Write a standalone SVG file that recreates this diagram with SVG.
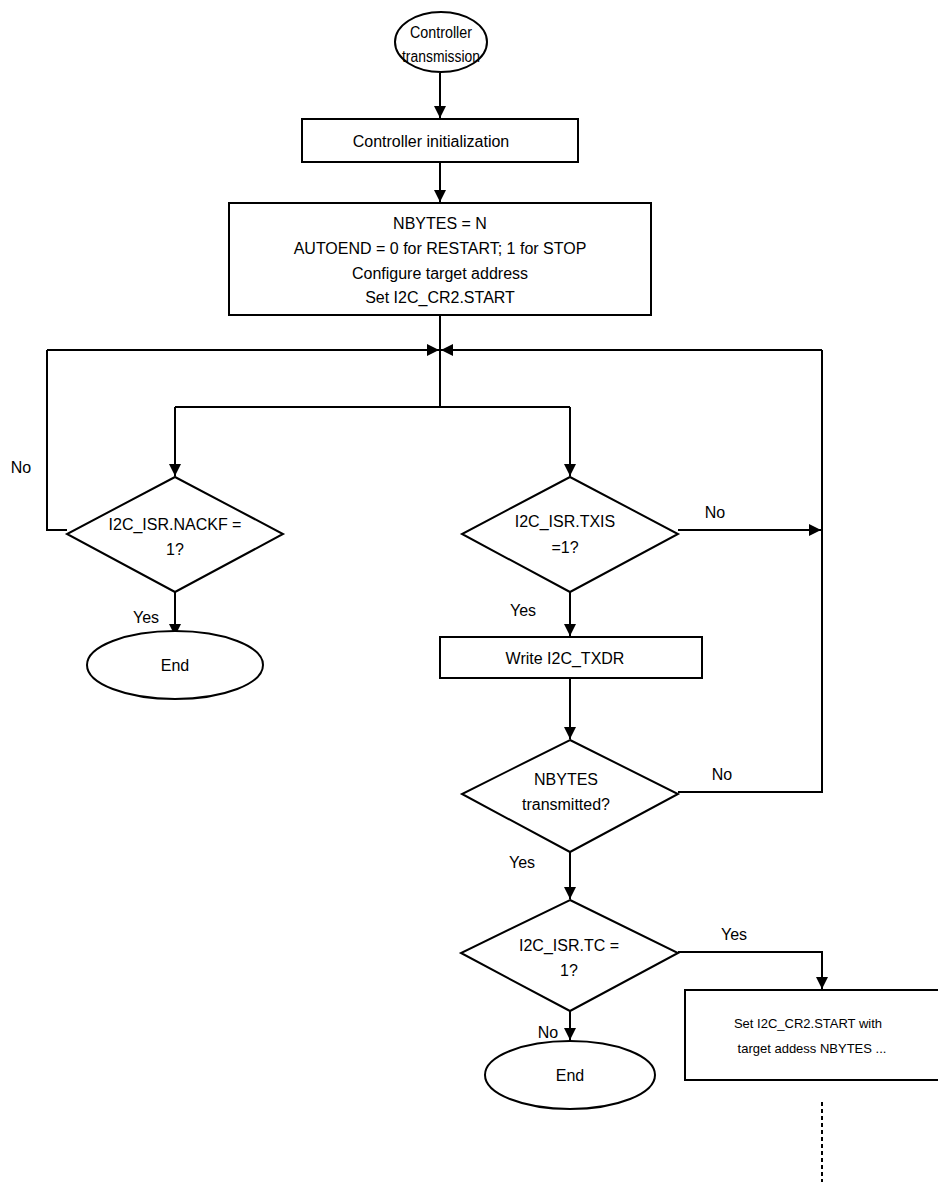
<svg xmlns="http://www.w3.org/2000/svg" width="938" height="1182" viewBox="0 0 938 1182">
<style>
.s{fill:#fff;stroke:#000;stroke-width:2}
.c{fill:none;stroke:#000;stroke-width:2}
text{font-family:"Liberation Sans",Arial,sans-serif;font-size:16px;fill:#000;text-anchor:middle}
.sm{font-size:13px}
</style>
<defs><marker id="b" viewBox="0 0 10 10" refX="10" refY="5" markerWidth="12" markerHeight="12" orient="auto" markerUnits="userSpaceOnUse"><path d="M0,0 L10,5 L0,10z" fill="#000"/></marker></defs>
<g id="connectors">
<path class="c" d="M440,73 V118" marker-end="url(#b)"/>
<path class="c" d="M440,162 V202" marker-end="url(#b)"/>
<path class="c" d="M440,315 V407 M175,407 H570"/>
<path class="c" d="M47,350 H439" marker-end="url(#b)"/>
<path class="c" d="M822,350 H441" marker-end="url(#b)"/>
<path class="c" d="M175,407 V476" marker-end="url(#b)"/>
<path class="c" d="M570,407 V476" marker-end="url(#b)"/>
<path class="c" d="M67,530 H47 V350"/>
<path class="c" d="M175,592 V636" marker-end="url(#b)"/>
<path class="c" d="M678,530 H821" marker-end="url(#b)"/>
<path class="c" d="M822,350 V792 H678"/>
<path class="c" d="M570,592 V636" marker-end="url(#b)"/>
<path class="c" d="M570,678 V739" marker-end="url(#b)"/>
<path class="c" d="M570,852 V899" marker-end="url(#b)"/>
<path class="c" d="M678,952 H822 V989" marker-end="url(#b)"/>
<path class="c" d="M570,1011 V1040" marker-end="url(#b)"/>
<path d="M822,1102 V1182" fill="none" stroke="#000" stroke-width="2" stroke-dasharray="4,3"/>
<text x="21" y="473">No</text>
<text x="146" y="623">Yes</text>
<text x="715" y="518">No</text>
<text x="523" y="616">Yes</text>
<text x="722" y="780">No</text>
<text x="522" y="868">Yes</text>
<text x="734" y="940">Yes</text>
<text x="548" y="1038">No</text>
</g>
<g id="start"><ellipse class="s" cx="441" cy="42" rx="46" ry="30"/><text x="441" y="38" textLength="62" lengthAdjust="spacingAndGlyphs">Controller</text><text x="441" y="62" textLength="78" lengthAdjust="spacingAndGlyphs">transmission</text></g>
<g id="init"><rect class="s" x="302" y="119" width="276" height="43"/><text x="431" y="147">Controller initialization</text></g>
<g id="config"><rect class="s" x="229" y="203" width="422" height="112"/>
<text x="440" y="229">NBYTES = N</text><text x="440" y="254">AUTOEND = 0 for RESTART; 1 for STOP</text><text x="440" y="279">Configure target address</text><text x="440" y="303">Set I2C_CR2.START</text></g>
<g id="nackf"><path class="s" d="M175,477 L283,534 L175,592 L67,534 Z"/><text x="175" y="530">I2C_ISR.NACKF =</text><text x="175" y="555">1?</text></g>
<g id="end1"><ellipse class="s" cx="175" cy="665" rx="88" ry="34"/><text x="175" y="671">End</text></g>
<g id="txis"><path class="s" d="M570,477 L678,534 L570,592 L462,534 Z"/><text x="565" y="527">I2C_ISR.TXIS</text><text x="565" y="553">=1?</text></g>
<g id="write"><rect class="s" x="440" y="637" width="262" height="41"/><text x="565" y="664">Write I2C_TXDR</text></g>
<g id="nbytes"><path class="s" d="M570,740 L678,794 L570,852 L462,794 Z"/><text x="566" y="785">NBYTES</text><text x="566" y="810">transmitted?</text></g>
<g id="tc"><path class="s" d="M570,900 L678,953 L570,1011 L461,953 Z"/><text x="569" y="951">I2C_ISR.TC =</text><text x="569" y="976">1?</text></g>
<g id="end2"><ellipse class="s" cx="570" cy="1075" rx="85" ry="34"/><text x="570" y="1081">End</text></g>
<g id="restart"><rect class="s" x="685" y="990" width="260" height="90"/><text class="sm" x="808" y="1028">Set I2C_CR2.START with</text><text class="sm" x="812" y="1053">target addess NBYTES ...</text></g>
</svg>
